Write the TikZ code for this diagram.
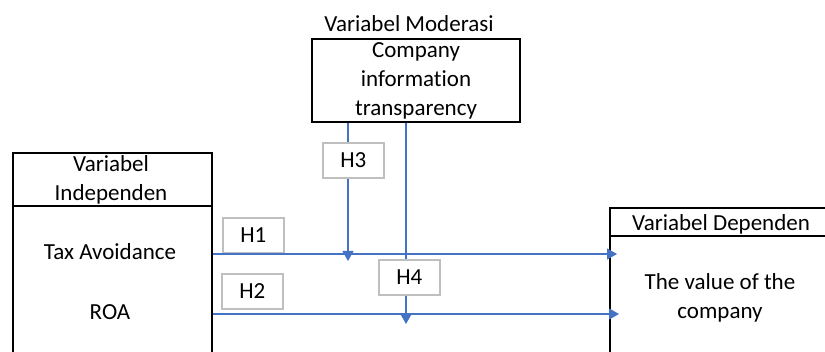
\documentclass[tikz,border=0pt]{standalone}
\usepackage{fontspec}
\setmainfont{Carlito}[Ligatures=NoCommon]
\usetikzlibrary{arrows.meta}
\definecolor{linkblue}{HTML}{4472C4}
\definecolor{hgray}{HTML}{BFBFBF}

\begin{document}
\begin{tikzpicture}[x=0.5pt,y=-0.5pt,
	font=\fontsize{11.5}{14.5}\selectfont,
	varbox/.style={draw=black, line width=1pt, anchor=north west, inner sep=0pt},
	hbox/.style={draw=hgray, line width=0.8pt, anchor=north west, inner sep=0pt,
		minimum width=30.5pt, minimum height=17.5pt},
	link/.style={draw=linkblue, line width=0.6pt},
	arr/.style={link, -{Triangle[length=5pt,width=5.5pt]}}]
	\useasboundingbox (0,0) rectangle (825,352);
	\clip (0,0) rectangle (825,352);
	% boxes
	\node[varbox, minimum width=104pt, minimum height=41.5pt] (mod) at (311,38) {};
	\node[varbox, minimum width=99.5pt, minimum height=106pt] (indep) at (12,152) {};
	\node[varbox, minimum width=112pt, minimum height=80pt] (dep) at (609,207) {};
	\draw[line width=1pt] (indep.north west) ++(0,54) -- ++(199,0);
	\draw[line width=1pt] (dep.north west) ++(0,29) -- ++(224,0);
	% texts
	\node[anchor=base] (modtitle) at (409,32) {Variabel Moderasi};
	\node[align=center] (modtext) at (mod.center) {Company\\information\\transparency};
	\node[align=center] (indeptitle) at (111,180) {Variabel\\Independen};
	\node[anchor=base] (tax) at (110,260) {Tax Avoidance};
	\node[anchor=base] (roa) at (110,320) {ROA};
	\node[anchor=base] (deptitle) at (721,231) {Variabel Dependen};
	\node[align=center] (value) at (720,298) {The value of the\\company};
	% hypotheses
	\node[hbox] (h1) at (222,217) {H1};
	\node[hbox] (h2) at (221,273) {H2};
	\node[hbox] (h3) at (322,142) {H3};
	\node[hbox] (h4) at (378,259) {H4};
	% connectors
	\coordinate (r1) at (0,254);
	\coordinate (r2) at (0,314);
	\coordinate (x3) at (348,0);
	\coordinate (x4) at (406,0);
	\draw[arr, shorten >=-4pt] (indep.east |- r1) -- (dep.west |- r1);
	\draw[arr, shorten >=-5pt] (indep.east |- r2) -- (dep.west |- r2);
	\draw[link] (mod.south -| x3) -- (h3.north -| x3);
	\draw[arr, shorten >=-3.5pt] (h3.south -| x3) -- (x3 |- r1);
	\draw[link] (mod.south -| x4) -- (h4.north -| x4);
	\draw[arr, shorten >=-5pt] (h4.south -| x4) -- (x4 |- r2);
\end{tikzpicture}
\end{document}
